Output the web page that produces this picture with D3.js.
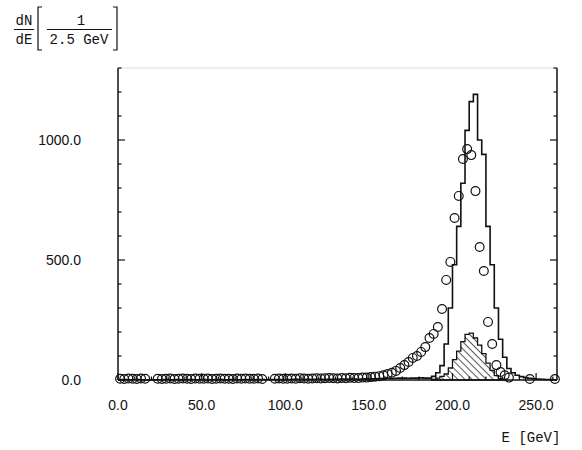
<!DOCTYPE html>
<html>
<head>
<meta charset="utf-8">
<script src="https://cdn.jsdelivr.net/npm/d3@7/dist/d3.min.js"></script>
<style>
  html, body { margin: 0; padding: 0; background: #fff; }
  svg { display: block; }
  .tick-label { font-family: "Liberation Sans", Arial, sans-serif; font-size: 14px; fill: #111; }
  .label { font-family: "Liberation Mono", "DejaVu Sans Mono", monospace; font-size: 14px; fill: #111; }
</style>
</head>
<body>
<svg id="chart" width="582" height="450"></svg>
<script>
// Energy spectrum, 2.5 GeV bins starting at 0 GeV
const BIN_WIDTH = 2.5;

// Simulated spectrum (solid histogram), one value per bin from 0 GeV
const simCounts = [
  1, 2, 1, 1, 2, 1, 0, 0, 0, 1,
  1, 2, 1, 1, 2, 1, 1, 2, 1, 1,
  2, 1, 1, 2, 2, 1, 1, 2, 1, 1,
  2, 2, 1, 2, 2, 1, 2, 2, 2, 1,
  2, 2, 3, 2, 2, 3, 2, 3, 3, 2,
  3, 3, 3, 4, 3, 4, 4, 3, 4, 5,
  5, 5, 6, 6, 7, 6, 7, 8, 8, 7,
  8, 8, 9, 8, 8, 15, 30, 60, 150, 300,
  480, 640, 820, 1040, 1160, 1190, 1000, 940, 640, 480,
  300, 170, 95, 48, 30, 20, 14, 10, 7, 5,
  4, 3, 2, 2, 1
];

// Measured spectrum (open circles) at bin centres; null = empty bin
const dataCounts = [
  5, 4, 6, 5, 4, 6, 5, null, null, 5,
  4, 5, 6, 4, 5, 6, 5, 4, 6, 5,
  5, 6, 4, 5, 6, 5, 5, 4, 6, 5,
  6, 5, 5, 6, 4, null, null, 5, 6, 5,
  5, 6, 5, 7, 6, 5, 6, 7, 6, 7,
  8, 7, 6, 8, 7, 9, 8, 8, 10, 10,
  12, 14, 16, 20, 25, 30, 38, 50, 62, 75,
  92, 100, 117, 137, 175, 192, 221, 296, 417, 492,
  675, 767, 921, 962, 937, 787, 554, 454, 242, 150,
  62, 33, 20, 10, null, null, null, null, 4, null,
  null, null, null, null, 4
];

// Hatched component, bins starting at signalStart
const signalStart = 187.5;
const signalCounts = [3, 8, 15, 25, 50, 85, 120, 160, 190, 195, 175, 145, 110, 70, 40, 18, 6, 2];

// Axis ticks
const xTicks = [0, 50, 100, 150, 200, 250];
const xMinorTicks = d3.range(0, 261, 10);
const yTicks = [0, 500, 1000];
const yMinorTicks = d3.range(0, 1301, 100);

const svg = d3.select("#chart");
const x = d3.scaleLinear().domain([0, 262.5]).range([118, 557]);
const y = d3.scaleLinear().domain([0, 1300]).range([380, 68]);

// Hatch pattern for the shaded component
const defs = svg.append("defs");
defs.append("pattern")
  .attr("id", "hatch")
  .attr("patternUnits", "userSpaceOnUse")
  .attr("width", 5).attr("height", 5)
  .attr("patternTransform", "rotate(-45)")
  .append("line")
  .attr("x1", 0).attr("y1", 0).attr("x2", 0).attr("y2", 5)
  .attr("stroke", "#111").attr("stroke-width", 1.4);

// Turn bin values into step points (left edge, value) plus the closing edge
function stepPoints(values, start) {
  const pts = values.map((v, i) => [start + i * BIN_WIDTH, v]);
  pts.push([start + values.length * BIN_WIDTH, values[values.length - 1]]);
  return pts;
}

// Hatched component
const sigPts = stepPoints(signalCounts, signalStart);
svg.append("path")
  .datum(sigPts)
  .attr("fill", "url(#hatch)")
  .attr("stroke", "#111")
  .attr("stroke-width", 1.3)
  .attr("d", d3.area().curve(d3.curveStepAfter)
    .x(d => x(d[0])).y0(y(0)).y1(d => y(d[1])));

// Simulated histogram
const simPts = stepPoints(simCounts, 0);
svg.append("path")
  .datum(simPts)
  .attr("fill", "none")
  .attr("stroke", "#111")
  .attr("stroke-width", 1.6)
  .attr("d", d3.line().curve(d3.curveStepAfter)
    .x(d => x(d[0])).y(d => y(d[1])));

// Measured points
const dataPts = dataCounts
  .map((v, i) => ({ e: (i + 0.5) * BIN_WIDTH, v }))
  .filter(d => d.v !== null);
svg.append("g")
  .selectAll("circle")
  .data(dataPts)
  .join("circle")
  .attr("cx", d => x(d.e))
  .attr("cy", d => y(d.v))
  .attr("r", 4.4)
  .attr("fill", "none")
  .attr("stroke", "#111")
  .attr("stroke-width", 1.2);

// Frame
const frame = svg.append("g").attr("stroke", "#111").attr("stroke-width", 1.5);
frame.append("line").attr("x1", x(0)).attr("x2", x(262.5)).attr("y1", y(0)).attr("y2", y(0));
frame.append("line").attr("x1", x(0)).attr("x2", x(0)).attr("y1", y(0)).attr("y2", y(1300));
frame.append("line").attr("x1", x(262.5)).attr("x2", x(262.5)).attr("y1", y(0)).attr("y2", y(1300));
svg.append("line")
  .attr("x1", x(0)).attr("x2", x(262.5)).attr("y1", y(1300)).attr("y2", y(1300))
  .attr("stroke", "#ddd").attr("stroke-width", 1);

// Inward ticks on left and right
const tickG = svg.append("g").attr("stroke", "#111").attr("stroke-width", 1.2);
yMinorTicks.forEach(t => {
  const len = yTicks.includes(t) ? 7 : 3.5;
  tickG.append("line").attr("x1", x(0)).attr("x2", x(0) + len).attr("y1", y(t)).attr("y2", y(t));
  tickG.append("line").attr("x1", x(262.5)).attr("x2", x(262.5) - len).attr("y1", y(t)).attr("y2", y(t));
});
xMinorTicks.forEach(t => {
  const len = xTicks.includes(t) ? 7 : 3.5;
  tickG.append("line").attr("x1", x(t)).attr("x2", x(t)).attr("y1", y(0)).attr("y2", y(0) - len);
});

// Tick labels
const fmt = d3.format(".1f");
svg.append("g").selectAll("text")
  .data(xTicks).join("text")
  .attr("class", "tick-label")
  .attr("x", d => x(d)).attr("y", 410)
  .attr("text-anchor", "middle")
  .text(fmt);
svg.append("g").selectAll("text")
  .data(yTicks).join("text")
  .attr("class", "tick-label")
  .attr("x", 81).attr("y", d => y(d) + 5)
  .attr("text-anchor", "end")
  .text(fmt);

// Axis titles
svg.append("text").attr("class", "label").attr("x", 531).attr("y", 442)
  .attr("text-anchor", "middle").text("E [GeV]");

const yl = svg.append("g").attr("class", "label");
yl.append("text").attr("class", "label").attr("x", 24).attr("y", 25).attr("text-anchor", "middle").text("dN");
yl.append("line").attr("x1", 14).attr("x2", 34).attr("y1", 29.5).attr("y2", 29.5).attr("stroke", "#111").attr("stroke-width", 1);
yl.append("text").attr("class", "label").attr("x", 24).attr("y", 44).attr("text-anchor", "middle").text("dE");
// brackets
yl.append("path").attr("d", "M42,7 L38,7 L38,50 L42,50").attr("fill", "none").attr("stroke", "#111").attr("stroke-width", 1.2);
yl.append("path").attr("d", "M113,7 L117,7 L117,50 L113,50").attr("fill", "none").attr("stroke", "#111").attr("stroke-width", 1.2);
yl.append("text").attr("class", "label").attr("x", 81).attr("y", 25).attr("text-anchor", "middle").text("1");
yl.append("line").attr("x1", 47).attr("x2", 112).attr("y1", 29.5).attr("y2", 29.5).attr("stroke", "#111").attr("stroke-width", 1);
yl.append("text").attr("class", "label").attr("x", 79).attr("y", 44).attr("text-anchor", "middle").text("2.5 GeV");
</script>
</body>
</html>
